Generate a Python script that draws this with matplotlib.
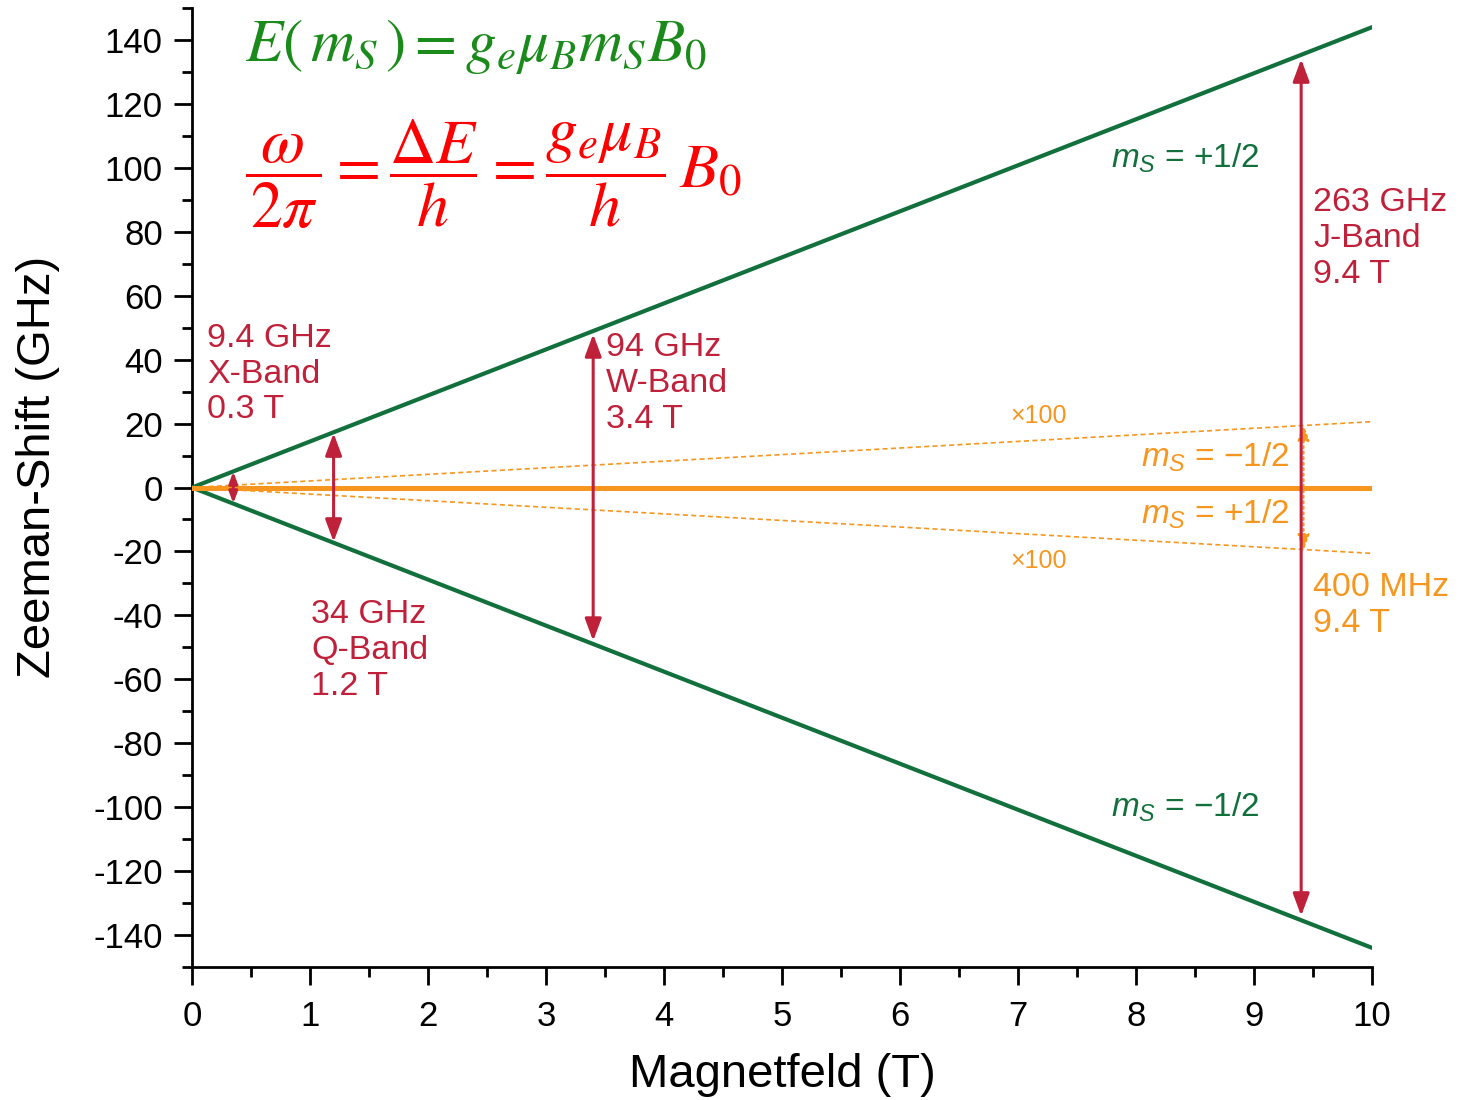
import matplotlib.pyplot as plt
from matplotlib.patches import FancyArrowPatch
from matplotlib.ticker import MultipleLocator

plt.rcParams['font.family'] = ['Liberation Sans', 'DejaVu Sans']
plt.rcParams['mathtext.fontset'] = 'custom'
plt.rcParams['mathtext.rm'] = 'Liberation Sans'
plt.rcParams['mathtext.it'] = 'Liberation Sans:italic'

# data
field = [0, 10]
electron_up = [0, 144]
electron_down = [0, -144]
proton_x100_up = [0, 20.6]
proton_x100_down = [0, -20.6]
proton = [0, 0]

band_field = [0.35, 1.2, 3.4, 9.4]
band_half = [5, 17, 48, 134]
band_labels = ['9.4 GHz\nX-Band\n0.3 T', '34 GHz\nQ-Band\n1.2 T',
               '94 GHz\nW-Band\n3.4 T', '263 GHz\nJ-Band\n9.4 T']
band_label_xy = [(0.13, 51.5), (1.01, -35), (3.51, 48.5), (9.5, 94)]

nmr_field = 9.4
nmr_half = 19.7

green = '#12703d'
red = '#c0213a'
orange = '#f7961e'

fig = plt.figure(figsize=(14.6, 11), dpi=100)
ax = fig.add_axes([0.1315, 0.1209, 0.8082, 0.8718])

ax.plot(field, electron_up, color=green, lw=3, solid_capstyle='round', zorder=3)
ax.plot(field, electron_down, color=green, lw=3, solid_capstyle='round', zorder=3)
ax.plot(field, proton, color=orange, lw=3.6, zorder=3)
ax.plot(field, proton_x100_up, color=orange, lw=1.2, ls=(0, (3, 2)), zorder=2)
ax.plot(field, proton_x100_down, color=orange, lw=1.2, ls=(0, (3, 2)), zorder=2)

for bx, bh in zip(band_field, band_half):
    scale = 5 if bh < 10 else 10
    arr = FancyArrowPatch((bx, -bh), (bx, bh),
                          arrowstyle='<|-|>,head_length=1.35,head_width=0.5',
                          mutation_scale=scale, color=red, lw=2.2,
                          shrinkA=0, shrinkB=0, zorder=4)
    ax.add_patch(arr)

arr = FancyArrowPatch((nmr_field + 0.02, -nmr_half), (nmr_field + 0.02, nmr_half),
                      arrowstyle='<|-|>,head_length=1.2,head_width=0.45',
                      mutation_scale=8, color=orange, lw=1.5, ls=':',
                      shrinkA=0, shrinkB=0, zorder=3)
ax.add_patch(arr)

for lab, (tx, ty) in zip(band_labels, band_label_xy):
    ax.text(tx, ty, lab, color=red, fontsize=24.5, va='top', ha='left',
            linespacing=1.2, zorder=5)

ax.text(9.5, -26.5, '400 MHz\n9.4 T', color=orange, fontsize=24.5, va='top',
        ha='left', linespacing=1.2)

ax.text(9.05, 103, r'$m_S$ = +1/2', color=green, fontsize=24, ha='right', va='center')
ax.text(9.05, -100, r'$m_S$ = −1/2', color=green, fontsize=24, ha='right', va='center')
ax.text(9.3, 9.5, r'$m_S$ = −1/2', color=orange, fontsize=24, ha='right', va='center')
ax.text(9.3, -8.5, r'$m_S$ = +1/2', color=orange, fontsize=24, ha='right', va='center')
ax.text(7.17, 22.5, '×100', color=orange, fontsize=18, ha='center', va='center')
ax.text(7.17, -23, '×100', color=orange, fontsize=18, ha='center', va='center')

fig.text(0.168, 0.958, r'$E\left(\,m_S\,\right) = g_e\mu_B m_S B_0$',
         color='#1a8a1a', fontsize=44, ha='left', va='center', math_fontfamily='stix')
fig.text(0.168, 0.842,
         r'$\dfrac{\ \omega\ }{2\pi} = \dfrac{\mathit{\Delta E}}{h} = \dfrac{g_e\mu_B}{h}\,B_0$',
         color='#ff0000', fontsize=46, ha='left', va='center', math_fontfamily='stix')

ax.set_xlim(0, 10)
ax.set_ylim(-150, 150)
ax.xaxis.set_major_locator(MultipleLocator(1))
ax.xaxis.set_minor_locator(MultipleLocator(0.5))
ax.yaxis.set_major_locator(MultipleLocator(20))
ax.yaxis.set_minor_locator(MultipleLocator(10))
ax.spines['top'].set_visible(False)
ax.spines['right'].set_visible(False)
for s in ('left', 'bottom'):
    ax.spines[s].set_linewidth(2)
ax.tick_params(which='major', length=13, width=2, labelsize=25, direction='out', pad=8)
ax.tick_params(axis='x', which='major', pad=11)
ax.tick_params(which='minor', length=7, width=2, direction='out')
ax.set_yticks(range(-140, 141, 20))
ax.set_yticklabels([str(v) for v in range(-140, 141, 20)])
ax.set_xlabel('Magnetfeld (T)', fontsize=34)
ax.set_ylabel('Zeeman-Shift (GHz)', fontsize=34)
ax.xaxis.set_label_coords(0.5, -0.1126)
ax.yaxis.set_label_coords(-0.1305, 0.521)
ax.xaxis.label.set_va('center')
ax.yaxis.label.set_va('center')

fig.savefig('out.png', dpi=100)
